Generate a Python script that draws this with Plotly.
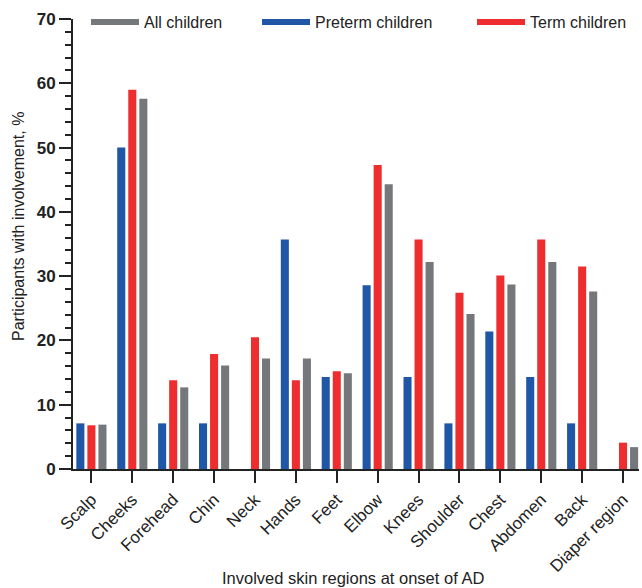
import plotly.graph_objects as go

categories = ["Scalp", "Cheeks", "Forehead", "Chin", "Neck", "Hands", "Feet", "Elbow",
              "Knees", "Shoulder", "Chest", "Abdomen", "Back", "Diaper region"]
preterm = [7.1, 50.0, 7.1, 7.1, 0.0, 35.7, 14.3, 28.6, 14.3, 7.1, 21.4, 14.3, 7.1, 0.0]
term = [6.8, 59.0, 13.8, 17.9, 20.5, 13.8, 15.2, 47.3, 35.7, 27.4, 30.1, 35.7, 31.5, 4.1]
all_children = [6.9, 57.6, 12.7, 16.1, 17.2, 17.2, 14.9, 44.3, 32.2, 24.1, 28.7, 32.2, 27.6, 3.4]

BLUE = "#1f56a6"
RED = "#ee2d2f"
GRAY = "#75787b"
INK = "#222222"
FONT = "Liberation Sans, Arial, sans-serif"

W, H = 642, 588
L, T, B, R = 73, 19, 119, 3
PW, PH = W - L - R, H - T - B

fig = go.Figure()
for name, vals, col in [("Preterm children", preterm, BLUE),
                        ("Term children", term, RED),
                        ("All children", all_children, GRAY)]:
    fig.add_trace(go.Bar(x=categories, y=vals, name=name, marker_color=col,
                         marker_line_width=0, showlegend=False, hoverinfo="skip"))

for name, col, lg in [("All children", GRAY, "legend"),
                      ("Preterm children", BLUE, "legend2"),
                      ("Term children", RED, "legend3")]:
    fig.add_trace(go.Scatter(x=[None], y=[None], mode="lines", name=name,
                             line=dict(color=col, width=6), legend=lg))

leg_common = dict(orientation="h", yref="container", xref="container",
                  yanchor="middle", y=1 - 22 / H, xanchor="left", itemwidth=48,
                  bgcolor="rgba(0,0,0,0)", font=dict(family=FONT, size=16, color=INK))

fig.update_layout(
    barmode="group", bargap=0.19, bargroupgap=0.27,
    width=W, height=H,
    margin=dict(l=L, r=R, t=T, b=B, autoexpand=False),
    plot_bgcolor="white", paper_bgcolor="white",
    font=dict(family=FONT, size=16, color=INK),
    legend=dict(x=86 / W, **leg_common),
    legend2=dict(x=257 / W, **leg_common),
    legend3=dict(x=472 / W, **leg_common),
    xaxis=dict(range=[-0.45, 13.39], showline=True, linecolor=INK, linewidth=2,
               ticks="outside", ticklen=12, tickwidth=2, tickcolor=INK,
               tickangle=-45, tickfont=dict(family=FONT, size=17, color=INK),
               showgrid=False, zeroline=False, automargin=False),
    yaxis=dict(range=[0, 70], tickvals=[0, 10, 20, 30, 40, 50, 60, 70],
               showline=True, linecolor=INK, linewidth=2,
               ticks="outside", ticklen=12, tickwidth=2, tickcolor=INK,
               minor=dict(dtick=2, ticks="outside", ticklen=6, tickwidth=2, tickcolor=INK),
               tickfont=dict(family=FONT, size=17, color=INK, weight="bold"),
               showgrid=False, zeroline=False, automargin=False),
    annotations=[
        dict(text="Involved skin regions at onset of AD", xref="paper", yref="paper",
             x=(353 - L) / PW, y=1 - (578 - T) / PH, xanchor="center", yanchor="middle",
             showarrow=False, font=dict(family=FONT, size=16.5, color=INK)),
        dict(text="Participants with involvement, %", xref="paper", yref="paper",
             x=(18 - L) / PW, y=1 - (227 - T) / PH, xanchor="center", yanchor="middle",
             textangle=-90, showarrow=False, font=dict(family=FONT, size=16, color=INK)),
    ],
)

fig.write_html("out.html", config=dict(displayModeBar=False),
               post_script="document.body.style.margin='0px';document.body.style.padding='0px';")
